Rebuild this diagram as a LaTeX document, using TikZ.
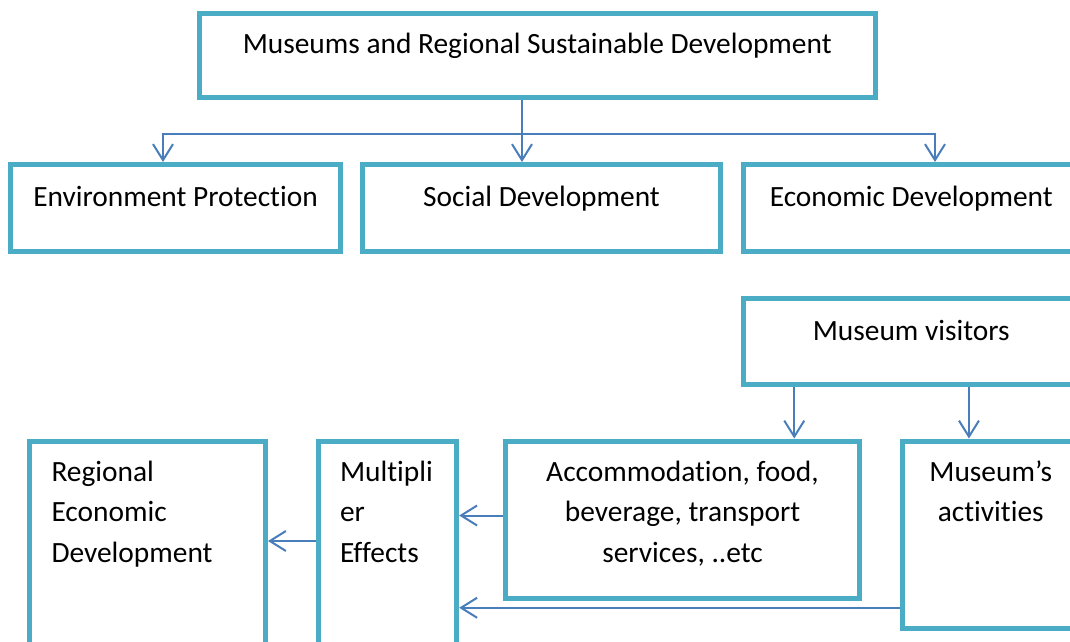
\documentclass[tikz,border=0pt]{standalone}
\usepackage{fontspec}
\setmainfont{Carlito}[Ligatures={TeX,NoCommon}]
\usepackage{xcolor}
\usetikzlibrary{arrows.meta,positioning}

\definecolor{boxline}{RGB}{75,172,198}
\definecolor{linkblue}{RGB}{74,126,187}

\begin{document}
\begin{tikzpicture}[
    x=1pt, y=-1pt,
    font=\fontsize{29.4}{40.8}\selectfont,
    box/.style={draw=boxline, line width=5pt, outer sep=2.5pt, inner xsep=0pt, inner ysep=0pt, align=flush center, text height=40pt},
    leftbox/.style={box, align=flush left, inner xsep=22pt},
    arrow/.style={draw=linkblue, line width=2pt, -{Straight Barb[length=16pt, width=20pt]}}
]
\clip (0,0) rectangle (1070,642);
\fill[white] (0,0) rectangle (1070,642);

% top level
\node[box, minimum width=676.5pt, text depth=43.5pt] (top) at (537.25,55.75) {Museums and Regional Sustainable Development};

\node[box, minimum width=330pt, text height=42pt, text depth=45pt] (env) at (175.5,208) {Environment Protection};
\node[box, minimum width=358pt, text height=42pt, text depth=45pt, right=17pt of env] (social) {Social Development};
\node[box, minimum width=335.5pt, text height=42pt, text depth=45pt, right=18pt of social] (econ) {Economic Development};

% economic chain
\node[box, minimum width=336pt, text height=42pt, text depth=44.5pt, below=41.5pt of econ] (visitors) {Museum visitors};

\node[leftbox, text width=192pt, text depth=184pt] (regional) at (147.5,553) {Regional\\Economic\\Development};
\node[leftbox, text width=94.7pt, text depth=184pt, right=47.5pt of regional] (mult) {Multipli\\er\\Effects};
\node[box, text width=354pt, text depth=117pt, right=43.8pt of mult.north east, anchor=north west] (accom) {Accommodation, food,\\beverage, transport\\services, ..etc};
\node[box, text width=176.5pt, text depth=147.5pt, right=38pt of accom.north east, anchor=north west] (activities) {Museum’s\\activities};

\coordinate (bus) at (522,134);
\draw[arrow] ([xshift=-15.25pt]top.south) -- ([xshift=-19.5pt]social.north);
\draw[arrow] (bus) -| ([xshift=-12.5pt]env.north);
\draw[arrow] (bus) -| ([xshift=23.75pt]econ.north);

\draw[arrow] ([xshift=-117pt]visitors.south) -- ([xshift=-117pt]visitors.south |- accom.north);
\draw[arrow] ([xshift=57.7pt]visitors.south) -- ([xshift=57.7pt]visitors.south |- activities.north);
\draw[arrow] ([yshift=4pt]accom.west) -- ([yshift=4pt]accom.west -| mult.east);
\draw[arrow] ([yshift=12pt]mult.west) -- ([yshift=12pt]mult.west -| regional.east);
\draw[arrow] ([yshift=-73pt]activities.west) -- ([yshift=-73pt]activities.west -| mult.east);
\end{tikzpicture}
\end{document}
